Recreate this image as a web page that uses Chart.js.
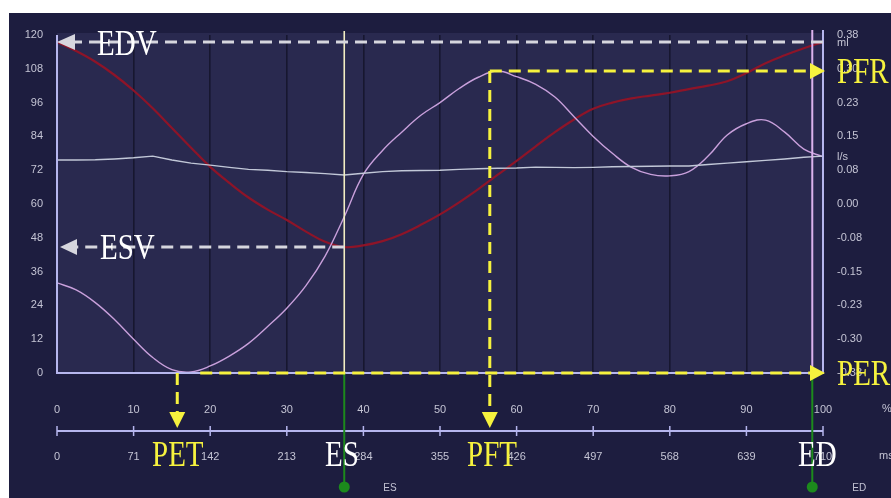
<!DOCTYPE html>
<html>
<head>
<meta charset="utf-8">
<script src="https://cdn.jsdelivr.net/npm/chart.js@4/dist/chart.umd.min.js"></script>
<style>
  html, body { margin: 0; padding: 0; background: #ffffff; }
  canvas { display: block; }
</style>
</head>
<body>
<canvas id="c" width="891" height="498"></canvas>
<script>
// Cardiac cycle, sampled in % of R-R interval
const pct = [0, 2.5, 5, 7.5, 10, 12.5, 15, 17.5, 20, 22.5, 25, 27.5, 30, 32.5, 35, 37.5, 40,
             42.5, 45, 47.5, 50, 52.5, 55, 57.5, 60, 62.5, 65, 67.5, 70, 72.5, 75, 77.5, 80,
             82.5, 85, 87.5, 90, 92.5, 95, 97.5, 100];

// LV volume curve (ml)
const volume = [117.5, 114.3, 110.5, 105.8, 100.3, 94, 87, 80, 73.2, 67.5, 62.3, 58, 54.3, 50.2, 46.6, 44.7, 45.3,
                46.8, 49.3, 52.6, 56.3, 60.6, 65.3, 70.3, 75.3, 80.5, 85.5, 90, 93.8, 96, 97.5, 98.5, 99.5,
                100.8, 102, 103.6, 106.5, 110, 112.8, 115.3, 117.5];

// Filling / ejection rate curve (drawn on the volume scale)
const rate = [32, 29.5, 25, 19, 12, 5.5, 1.2, 0.4, 2.5, 6, 10.5, 16.5, 23, 31, 41.5, 55.5, 70.5,
              79, 85.5, 91.5, 96, 101, 105, 107.2, 105.2, 102.5, 98, 91, 84, 78, 73, 70.5, 70,
              71.5, 77, 84.5, 88.5, 89.8, 85.5, 79.5, 76.8];

// Flat reference trace
const reference = [75.6, 75.6, 75.7, 76, 76.4, 77, 75.6, 74.5, 73.8, 73, 72.3, 72, 71.5, 71.2, 70.8, 70.3, 70.9,
                   71.5, 71.8, 71.9, 72, 72.3, 72.5, 72.7, 72.8, 73.1, 73, 72.9, 73, 73.2, 73.3, 73.4, 73.5,
                   73.5, 74, 74.5, 75, 75.5, 76, 76.6, 77];

// Axis tick labels
const pctTicks = ['0', '10', '20', '30', '40', '50', '60', '70', '80', '90', '100'];
const msTicks = ['0', '71', '142', '213', '284', '355', '426', '497', '568', '639', '710'];
const volTicks = ['0', '12', '24', '36', '48', '60', '72', '84', '96', '108', '120'];
const rateTicks = ['-0.38', '-0.30', '-0.23', '-0.15', '-0.08', '0.00', '0.08', '0.15', '0.23', '0.30', '0.38'];

// Cycle events (% of cycle) and derived values
const esPct = 37.5;
const edPct = 98.6;
const petPct = 15.7;
const pftPct = 56.5;
const edv = 117.5;
const esv = 44.7;
const pfr = 107.2;
const per = 0;

const toPoints = (ys) => ys.map((v, i) => ({ x: pct[i], y: v }));

const FONT = 'Liberation Sans';
const LAV = '#b6b6ee';
const YEL = '#f6f23e';
const WHITE_DASH = '#d6d6de';
const GREEN = '#1c8a1c';

function dashedArrow(ctx, x1, y1, x2, y2, color, head) {
  const dx = x2 - x1, dy = y2 - y1;
  const len = Math.hypot(dx, dy);
  const ux = dx / len, uy = dy / len;
  const hl = head || 16, hw = 8;
  const bx = x2 - ux * hl, by = y2 - uy * hl;
  ctx.save();
  ctx.strokeStyle = color;
  ctx.lineWidth = 3;
  ctx.setLineDash([12, 7]);
  ctx.beginPath();
  ctx.moveTo(x1, y1);
  ctx.lineTo(bx, by);
  ctx.stroke();
  ctx.setLineDash([]);
  ctx.fillStyle = color;
  ctx.beginPath();
  ctx.moveTo(x2, y2);
  ctx.lineTo(bx - uy * hw, by + ux * hw);
  ctx.lineTo(bx + uy * hw, by - ux * hw);
  ctx.closePath();
  ctx.fill();
  ctx.restore();
}

function bigText(ctx, s, x, baseline, color) {
  ctx.save();
  ctx.translate(x, baseline);
  ctx.scale(1, 1.2);
  ctx.font = '29px "Liberation Serif"';
  ctx.fillStyle = color;
  ctx.textAlign = 'left';
  ctx.textBaseline = 'alphabetic';
  ctx.fillText(s, 0, 0);
  ctx.restore();
}

const overlay = {
  id: 'overlay',
  beforeDraw(chart) {
    const { ctx, chartArea: a } = chart;
    ctx.save();
    ctx.fillStyle = '#ffffff';
    ctx.fillRect(0, 0, chart.width, chart.height);
    ctx.fillStyle = '#1d1d3f';
    ctx.fillRect(9, 13, chart.width - 9, chart.height - 13);
    ctx.fillStyle = '#29294f';
    ctx.fillRect(a.left, a.top - 2, a.right - a.left, a.bottom - a.top + 2);
    ctx.restore();
  },
  afterDraw(chart) {
    const { ctx, chartArea: a } = chart;
    const xs = chart.scales.x, ys = chart.scales.y, ms = chart.scales.xms;
    ctx.save();

    // plot frame
    ctx.strokeStyle = LAV;
    ctx.lineWidth = 2;
    ctx.beginPath();
    ctx.moveTo(a.left, a.top);
    ctx.lineTo(a.left, a.bottom);
    ctx.lineTo(a.right, a.bottom);
    ctx.lineTo(a.right, a.top - 5);
    ctx.stroke();

    // ms axis line with crossing ticks
    const axY = ms.top;
    ctx.beginPath();
    ctx.moveTo(a.left, axY);
    ctx.lineTo(a.right, axY);
    ctx.stroke();
    ctx.lineWidth = 1.5;
    ms.ticks.forEach((t, i) => {
      const px = ms.getPixelForTick(i);
      ctx.beginPath();
      ctx.moveTo(px, axY - 5);
      ctx.lineTo(px, axY + 5);
      ctx.stroke();
    });

    // ES and ED markers
    const esX = xs.getPixelForValue(esPct);
    const edX = xs.getPixelForValue(edPct);
    ctx.lineWidth = 1.6;
    ctx.strokeStyle = '#f2eec4';
    ctx.beginPath(); ctx.moveTo(esX, a.top - 4); ctx.lineTo(esX, a.bottom); ctx.stroke();
    ctx.lineWidth = 2;
    ctx.strokeStyle = '#dcb2ee';
    ctx.beginPath(); ctx.moveTo(edX, a.top - 5); ctx.lineTo(edX, a.bottom); ctx.stroke();
    ctx.strokeStyle = GREEN;
    ctx.fillStyle = GREEN;
    [esX, edX].forEach(px => {
      ctx.beginPath(); ctx.moveTo(px, a.bottom); ctx.lineTo(px, 487); ctx.stroke();
      ctx.beginPath(); ctx.arc(px, 487, 5.5, 0, Math.PI * 2); ctx.fill();
    });

    // EDV / ESV
    const edvY = ys.getPixelForValue(edv);
    const esvY = ys.getPixelForValue(esv);
    dashedArrow(ctx, a.right, edvY, a.left, edvY, WHITE_DASH, 18);
    dashedArrow(ctx, esX, esvY, a.left + 3, esvY, WHITE_DASH, 17);

    // PFR / PFT
    const pftX = xs.getPixelForValue(pftPct);
    const pfrY = ys.getPixelForValue(pfr);
    dashedArrow(ctx, pftX, pfrY, a.right + 2, pfrY, YEL, 15);
    dashedArrow(ctx, pftX, pfrY, pftX, 428, YEL, 16);

    // PER / PET
    const petX = xs.getPixelForValue(petPct);
    const perY = ys.getPixelForValue(per);
    dashedArrow(ctx, xs.getPixelForValue(petPct + 3), perY, a.right + 2, perY, YEL, 15);
    dashedArrow(ctx, petX, perY, petX, 428, YEL, 16);

    // unit labels
    ctx.fillStyle = '#c4c4d4';
    ctx.font = '11px "' + FONT + '"';
    ctx.textBaseline = 'middle';
    ctx.textAlign = 'left';
    ctx.fillText('%', 882, xs.top + 36);
    ctx.fillText('ms', 879, ms.top + 25);
    ctx.fillText('ml', 837, 43);
    ctx.fillText('l/s', 837, 157);
    ctx.font = '10px "' + FONT + '"';
    ctx.fillText('ES', esX + 39, 488);
    ctx.fillText('ED', edX + 40, 488);

    // event captions
    bigText(ctx, 'EDV', 97, 55, '#ffffff');
    bigText(ctx, 'ESV', 100, 259, '#ffffff');
    bigText(ctx, 'PFR', 837, 83, YEL);
    bigText(ctx, 'PER', 837, 385, YEL);
    bigText(ctx, 'PET', 152, 466, YEL);
    bigText(ctx, 'ES', 325, 466, '#ffffff');
    bigText(ctx, 'PFT', 467, 466, YEL);
    bigText(ctx, 'ED', 798, 466, '#ffffff');

    ctx.restore();
  }
};

const tickFont = { family: FONT, size: 11 };
const tickColor = '#c4c4d4';

new Chart(document.getElementById('c'), {
  type: 'line',
  data: {
    datasets: [
      { label: 'reference', data: toPoints(reference), borderColor: '#c2c8d8', borderWidth: 1.4, pointRadius: 0, tension: 0 },
      { label: 'rate', data: toPoints(rate), borderColor: '#c9a0dc', borderWidth: 1.4, pointRadius: 0, tension: 0.4 },
      { label: 'volume', data: toPoints(volume), borderColor: '#8e1428', borderWidth: 2.2, pointRadius: 0, tension: 0.4 }
    ]
  },
  options: {
    responsive: false,
    animation: false,
    devicePixelRatio: 1,
    layout: { padding: { top: 35, left: 0, right: 0, bottom: 0 } },
    plugins: { legend: { display: false }, tooltip: { enabled: false } },
    scales: {
      x: {
        type: 'linear', position: 'bottom', min: 0, max: 100, weight: 1,
        afterFit: (s) => { s.height = 58; },
        border: { display: false },
        grid: {
          drawTicks: false, lineWidth: 1.6,
          color: (c) => (c.tick && (c.tick.value === 0 || c.tick.value === 100)) ? 'rgba(0,0,0,0)' : '#17172f'
        },
        ticks: { stepSize: 10, padding: 30, color: tickColor, font: tickFont, maxRotation: 0, autoSkip: false,
                 callback: (v, i) => pctTicks[i] }
      },
      xms: {
        type: 'linear', position: 'bottom', min: 0, max: 710, weight: 2,
        afterFit: (s) => { s.height = 67; },
        border: { display: false },
        grid: { display: false, drawTicks: false },
        ticks: { stepSize: 71, padding: 19, color: tickColor, font: tickFont, maxRotation: 0, autoSkip: false,
                 callback: (v, i) => msTicks[i] }
      },
      y: {
        type: 'linear', position: 'left', min: 0, max: 120,
        afterFit: (s) => { s.width = 57; },
        border: { display: false },
        grid: { display: false, drawTicks: false },
        ticks: { stepSize: 12, padding: 14, color: tickColor, font: tickFont, autoSkip: false,
                 callback: (v, i) => volTicks[i] }
      },
      y2: {
        type: 'linear', position: 'right', min: -0.375, max: 0.375,
        afterFit: (s) => { s.width = 68; },
        border: { display: false },
        grid: { display: false, drawTicks: false },
        ticks: { stepSize: 0.075, padding: 14, color: tickColor, font: tickFont, autoSkip: false,
                 callback: (v, i) => rateTicks[i] }
      }
    }
  },
  plugins: [overlay]
});
</script>
</body>
</html>
